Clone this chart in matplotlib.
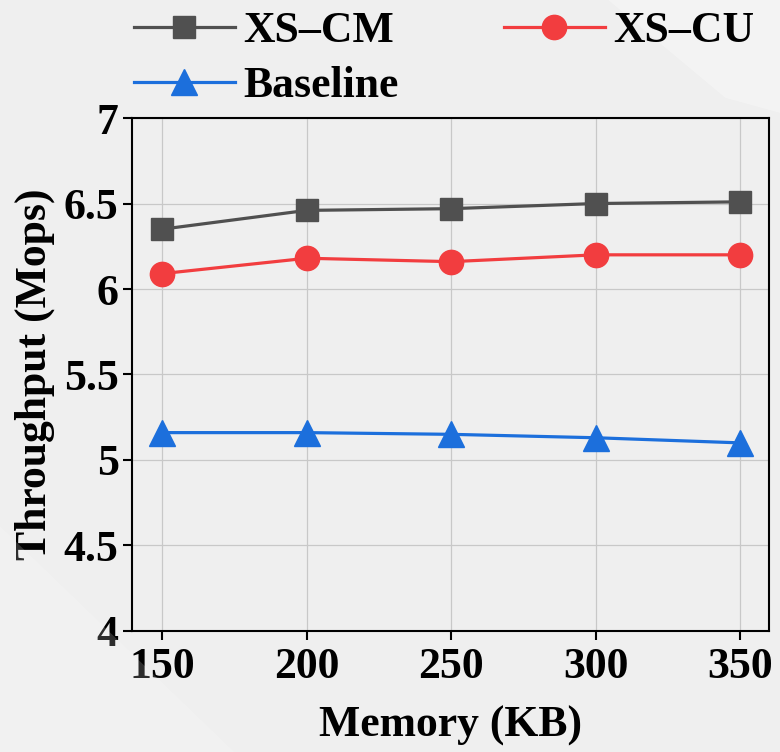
import matplotlib
matplotlib.use("Agg")
import matplotlib.pyplot as plt
from matplotlib.patches import Polygon

memory_kb = [150, 200, 250, 300, 350]
xs_cm = [6.35, 6.46, 6.47, 6.50, 6.51]
xs_cu = [6.09, 6.18, 6.16, 6.20, 6.20]
baseline = [5.16, 5.16, 5.15, 5.13, 5.10]
y_ticks = [4, 4.5, 5, 5.5, 6, 6.5, 7]
y_tick_labels = ["4", "4.5", "5", "5.5", "6", "6.5", "7"]

plt.rcParams['font.family'] = ['Liberation Serif', 'DejaVu Serif']
plt.rcParams['font.weight'] = 'bold'
FS = 31.5

fig = plt.figure(figsize=(7.8, 7.52), dpi=100, facecolor='#efefef')

# faint background shapes
fig.patches.append(Polygon([[0.78, 1.0], [1.0, 1.0], [1.0, 0.85], [0.93, 0.87]],
                           closed=True, transform=fig.transFigure,
                           facecolor='white', alpha=0.3, edgecolor='none', zorder=0))
fig.patches.append(Polygon([[0.0, 0.0], [0.0, 0.3], [0.3, 0.0]],
                           closed=True, transform=fig.transFigure,
                           facecolor='white', alpha=0.18, edgecolor='none', zorder=0))

ax = fig.add_axes([0.169, 0.161, 0.817, 0.682])
ax.set_facecolor('none')

l1, = ax.plot(memory_kb, xs_cm, color='#505050', marker='s', markersize=16, linewidth=2.3, label='XS–CM')
l2, = ax.plot(memory_kb, xs_cu, color='#f23d3f', marker='o', markersize=17.5, linewidth=2.3, label='XS–CU')
l3, = ax.plot(memory_kb, baseline, color='#1c6fdc', marker='^', markersize=19, linewidth=2.3, label='Baseline')

ax.set_xlim(139.5, 360)
ax.set_ylim(4, 7)
ax.set_xticks(memory_kb)
ax.set_yticks(y_ticks)
ax.set_yticklabels(y_tick_labels)
ax.grid(True, color='#c8c8c8', linewidth=0.9)
ax.set_axisbelow(True)

for s in ax.spines.values():
    s.set_linewidth(1.5)
    s.set_color('black')
ax.tick_params(axis='both', direction='out', length=6.5, width=1.5, labelsize=FS)
ax.tick_params(axis='y', pad=3)
ax.tick_params(axis='x', pad=5)

ax.set_xlabel('Memory (KB)', fontsize=FS, fontweight='bold')
ax.set_ylabel('Throughput (Mops)', fontsize=FS, fontweight='bold')
ax.xaxis.set_label_coords(0.5, -0.145)
ax.yaxis.set_label_coords(-0.12, 0.5)

# column-wise fill: XS-CM, Baseline in col 1; XS-CU in col 2
fig.legend([l1, l3, l2], ['XS–CM', 'Baseline', 'XS–CU'],
           loc='upper left', bbox_to_anchor=(0.172, 0.985), ncol=2, frameon=False,
           fontsize=FS, handlelength=2.3, handletextpad=0.2, columnspacing=2.4,
           labelspacing=0.34, borderpad=0, borderaxespad=0)

fig.savefig('out.png', dpi=100, facecolor=fig.get_facecolor())
